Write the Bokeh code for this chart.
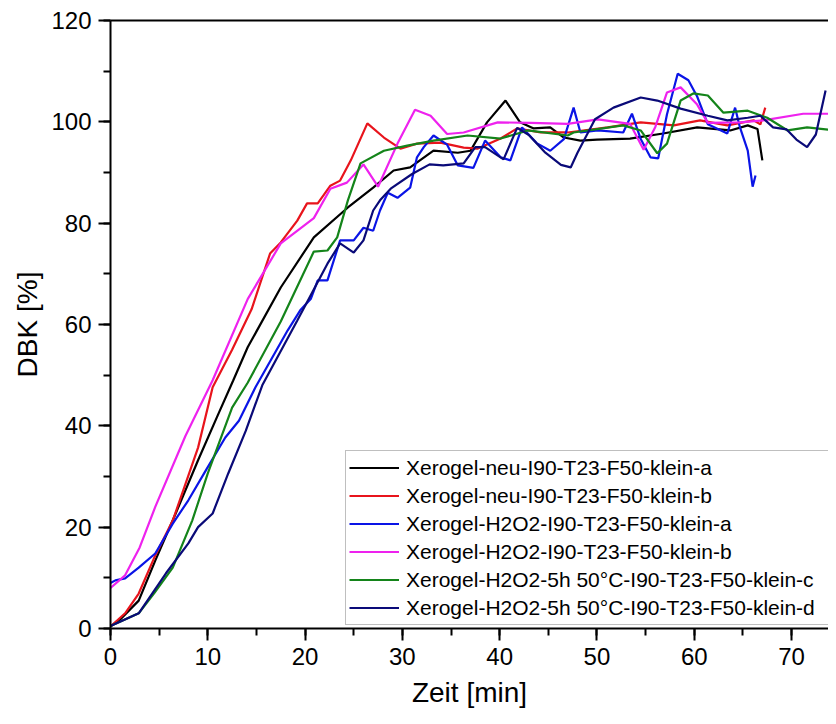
from bokeh.plotting import figure
from bokeh.models import Range1d, SingleIntervalTicker, LinearAxis, FixedTicker
from bokeh.embed import file_html
from bokeh.resources import INLINE

# ---- data ----
labels = [
    "Xerogel-neu-I90-T23-F50-klein-a",
    "Xerogel-neu-I90-T23-F50-klein-b",
    "Xerogel-H2O2-I90-T23-F50-klein-a",
    "Xerogel-H2O2-I90-T23-F50-klein-b",
    "Xerogel-H2O2-5h 50°C-I90-T23-F50-klein-c",
    "Xerogel-H2O2-5h 50°C-I90-T23-F50-klein-d",
]
colors = ["#000000", "#e8141c", "#0a14e6", "#ee22ee", "#14841a", "#0a0a78"]

t_black = [0, 1, 2.9, 4.6, 6.7, 9, 11.1, 12.6, 14.1, 17.5, 20.9, 24.4, 27, 29.1, 30.8, 33.2, 35.7, 37, 38.7,
           40.6, 42.1, 43.5, 45.2, 46.6, 48.3, 50, 53.4, 56.8, 60.3, 63.7, 65.5, 66.5, 67]
v_black = [0.4, 1.8, 5.5, 13.4, 22.7, 33.2, 42.4, 48.9, 55.5, 67.3, 77.2, 83.1, 87, 90.4, 91, 94.3, 93.9, 94.3, 99.9,
           104.2, 99.9, 98.7, 98.9, 96.9, 96.3, 96.5, 96.7, 97.7, 98.9, 98.3, 99.3, 98.6, 92.4]

t_red = [0, 1.5, 2.9, 4.5, 6.4, 9, 10.5, 12.5, 14.5, 16.4, 17.5, 19.2, 20.2, 21.3, 22.6, 23.6, 24.7, 26.4, 28.1,
         29.8, 31.5, 33.9, 36.3, 37.7, 40.1, 41.8, 44.2, 47, 51.1, 54.5, 57.9, 60.6, 63.4, 66.1, 66.8, 67.3]
v_red = [0.4, 3, 6.9, 14, 21.3, 35.7, 47.6, 55, 63, 74, 76.2, 80.5, 83.9, 83.9, 87.4, 88.4, 92.4, 99.7, 96.9,
         94.7, 95.7, 95.9, 94.9, 94.7, 96.7, 98.7, 97.9, 97.9, 98.9, 99.9, 99.3, 100.3, 99.3, 100.3, 99.5, 102.8]

t_blue = [0, 0.5, 1.5, 2.9, 4.6, 6.4, 8, 9.8, 11.8, 13.2, 14.9, 18.2, 19.5, 20.6, 21.3, 22.3, 23.6, 25, 26, 27,
          27.7, 28.5, 29.5, 30.8, 31.5, 32.2, 33.2, 34.6, 35.7, 37.3, 38.5, 40.1, 41.1, 42.3, 43.8, 45.2, 46.6,
          47.6, 48.3, 50.1, 52.7, 53.6, 54.5, 55.5, 56.3, 57.2, 58.3, 59.4, 60.3, 61.4, 63.4, 64.2, 64.7, 65.5,
          66, 66.3]
v_blue = [9, 9.5, 9.9, 12, 14.8, 20.7, 25.3, 31.2, 37.7, 41, 47.6, 58.8, 62.8, 65.1, 68.7, 68.7, 76.6, 76.6, 79.1,
          78.5, 82.5, 86, 85, 87, 93, 95, 97.3, 95.5, 91.4, 90.9, 96.3, 93, 92.4, 98.9, 95.8, 94.3, 96.6,
          102.8, 97.9, 98.3, 97.9, 101.6, 96.6, 93, 92.8, 101.5, 109.5, 108.2, 105, 99.5, 97.7, 102.8, 98.9,
          94.3, 87.2, 89.4]

t_mag = [0, 1.5, 3, 4.6, 7.7, 10.5, 14.1, 17.5, 20.9, 22.6, 24.3, 26, 27.5, 29.5, 31.3, 32.9, 34.6, 36.3, 39.8,
         43.2, 47, 50.1, 53.4, 54.8, 56, 57.2, 58.6, 60.3, 61.4, 64.7, 67.1, 71.2, 74.6]
v_mag = [8, 10.5, 16, 24, 38, 49, 65, 76, 81, 86.8, 88, 91.6, 87.2, 95.7, 102.4, 101.2, 97.6, 97.9, 99.9,
         99.8, 99.6, 100.5, 99.6, 94.5, 99, 105.8, 106.8, 103.4, 99.8, 99.9, 100.3, 101.6, 101.6]

t_green = [0, 2.9, 4.5, 6.4, 8.4, 10, 12.5, 14.1, 17.5, 20.9, 22.3, 23.3, 24.4, 25.7, 28.1, 30.5, 33.2, 36.7,
           40.1, 42.9, 47, 47.6, 52.7, 54.5, 56.2, 57.2, 58.6, 59.9, 61.4, 63, 65.5, 67.5, 69.6, 71.6, 74.6]
v_green = [0.5, 3, 7, 12, 21.3, 30.6, 43.6, 48.5, 60.6, 74.4, 74.6, 77.2, 84.5, 91.8, 94.3, 95.3, 96.3, 97.3,
           96.7, 98.3, 97.3, 97.9, 99.3, 98.3, 93.8, 95.7, 104.2, 105.6, 105.2, 101.8, 102.2, 100.8, 98.3, 98.9, 98.3]

t_navy = [0, 2.9, 5.7, 8, 9, 10.5, 12.1, 13.9, 15.6, 19.2, 22.3, 23.6, 25, 26, 27, 27.7, 28.8, 31, 32.8, 34.2,
          36.3, 37.5, 38.5, 40.4, 41.8, 43, 44.7, 46.3, 47.3, 48, 49.8, 51.7, 54.5, 56.2, 58.6, 61.4, 63.4,
          65.5, 66.8, 68.1, 69.5, 70.5, 71.6, 72.5, 73.5]
v_navy = [0.5, 3, 10.9, 16.8, 20, 22.7, 30.6, 39, 48, 60.8, 72, 76, 74.2, 76.6, 82.5, 84.5, 86.8, 89.7, 91.6, 91.4,
          91.8, 95, 95, 92.6, 98.8, 97.4, 93.9, 91.5, 91, 93.9, 100.5, 102.8, 104.8, 104.2, 102.6, 101.2, 100.3,
          100.8, 101.2, 98.9, 98.5, 96.5, 95, 97.5, 106.2]

series_t = [t_black, t_red, t_blue, t_mag, t_green, t_navy]
series_v = [v_black, v_red, v_blue, v_mag, v_green, v_navy]

FONT = "Liberation Sans"

p = figure(width=828, height=716, output_backend="svg", toolbar_location=None,
           x_range=Range1d(0, 73.8), y_range=Range1d(0, 120),
           min_border_left=110, min_border_top=20, min_border_bottom=88, min_border_right=0)
p.outline_line_color = None
p.xgrid.grid_line_color = None
p.ygrid.grid_line_color = None
p.background_fill_color = "white"
p.border_fill_color = "white"

p.xaxis.ticker = SingleIntervalTicker(interval=10, num_minor_ticks=2)
p.yaxis.ticker = SingleIntervalTicker(interval=20, num_minor_ticks=2)
for ax in (p.xaxis, p.yaxis):
    ax.axis_line_width = 2
    ax.major_tick_line_width = 2
    ax.minor_tick_line_width = 2
    ax.major_tick_in = 0
    ax.major_tick_out = 12
    ax.minor_tick_in = 0
    ax.minor_tick_out = 7
    ax.major_label_standoff = 7
    ax.major_label_text_font = FONT
    ax.major_label_text_font_size = "24px"
    ax.major_label_text_color = "black"
    ax.axis_label_text_font = FONT
    ax.axis_label_text_font_size = "28px"
    ax.axis_label_text_font_style = "normal"
    ax.axis_label_text_color = "black"
p.xaxis.axis_label = "Zeit [min]"
p.yaxis.axis_label = "DBK [%]"
p.xaxis.axis_label_standoff = 9
p.yaxis.axis_label_standoff = 5

top = LinearAxis(ticker=FixedTicker(ticks=[]), axis_line_width=2,
                 major_tick_line_color=None, minor_tick_line_color=None,
                 major_label_text_font_size="0px")
p.add_layout(top, "above")

for tt, vv, c, lab in zip(series_t, series_v, colors, labels):
    p.line(tt, vv, line_color=c, line_width=2.2, legend_label=lab)

lg = p.legend[0]
lg.location = (235, 3)
lg.label_text_font = FONT
lg.label_text_font_size = "21px"
lg.label_text_color = "black"
lg.glyph_width = 50
lg.glyph_height = 27
lg.label_height = 27
lg.label_width = 440
lg.label_standoff = 7
lg.spacing = 1
lg.padding = 3
lg.margin = 0
lg.border_line_color = "#808080"
lg.border_line_width = 1
lg.background_fill_color = "white"
lg.background_fill_alpha = 1

open("out.html", "w").write(file_html(p, INLINE))
